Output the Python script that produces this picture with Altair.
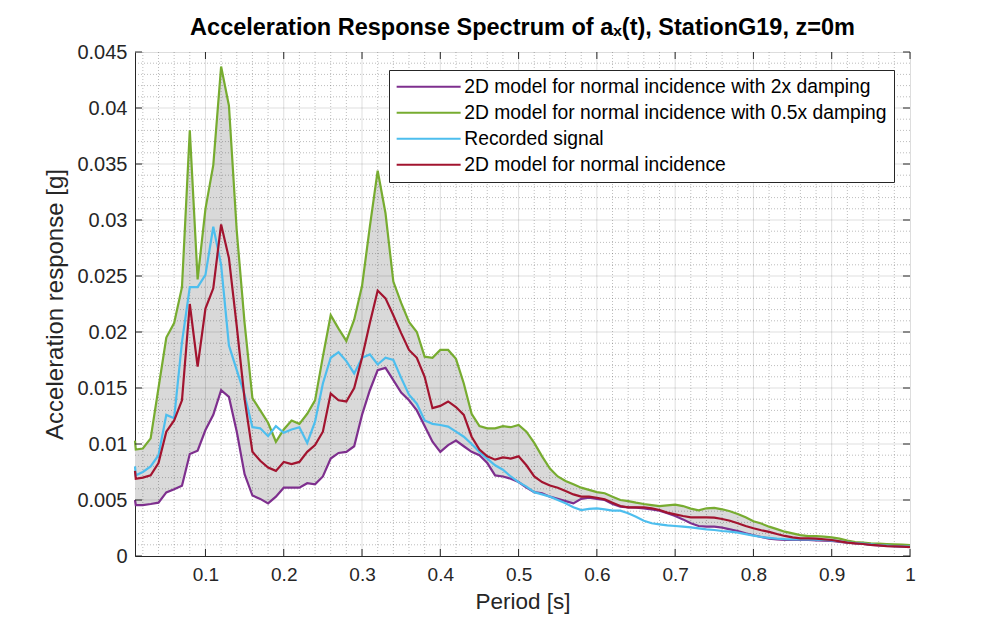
import altair as alt
import pandas as pd

# ---------------- data ----------------
periods = [0.01, 0.011, 0.02, 0.03, 0.04, 0.05, 0.06, 0.07, 0.08, 0.09, 0.10,
           0.11, 0.12, 0.13, 0.14, 0.15, 0.16, 0.17, 0.18, 0.19, 0.20,
           0.21, 0.22, 0.23, 0.24, 0.25, 0.26, 0.27, 0.28, 0.29, 0.30,
           0.31, 0.32, 0.33, 0.34, 0.35, 0.36, 0.37, 0.38, 0.39, 0.40,
           0.41, 0.42, 0.43, 0.44, 0.45, 0.46, 0.47, 0.48, 0.49, 0.50,
           0.51, 0.52, 0.53, 0.54, 0.55, 0.56, 0.57, 0.58, 0.59, 0.60,
           0.61, 0.62, 0.63, 0.64, 0.65, 0.66, 0.67, 0.68, 0.69, 0.70,
           0.71, 0.72, 0.73, 0.74, 0.75, 0.76, 0.77, 0.78, 0.79, 0.80,
           0.81, 0.82, 0.83, 0.84, 0.85, 0.86, 0.87, 0.88, 0.89, 0.90,
           0.91, 0.92, 0.93, 0.94, 0.95, 0.96, 0.97, 0.98, 0.99, 1.00]

damp_half = [0.0103, 0.0095, 0.0096, 0.0105, 0.0150, 0.0195, 0.0208, 0.0240, 0.0380, 0.0247, 0.0310,
             0.0349, 0.0437, 0.0402, 0.0290, 0.0208, 0.0141, 0.0130, 0.0119, 0.0102, 0.0113,
             0.0121, 0.0118, 0.0127, 0.0139, 0.0178, 0.0215, 0.0203, 0.0192, 0.0211, 0.0241,
             0.0294, 0.0344, 0.0306, 0.0245, 0.0226, 0.0209, 0.0200, 0.0178, 0.0177, 0.0184,
             0.0184, 0.0176, 0.0154, 0.0127, 0.0116, 0.0114, 0.0114, 0.0116, 0.0115, 0.0117,
             0.0111, 0.0101, 0.0089, 0.0078, 0.0071, 0.0067, 0.0064, 0.0061, 0.0059, 0.0057,
             0.0056, 0.0053, 0.0050, 0.0049, 0.00476, 0.00464, 0.00455, 0.00446, 0.00452, 0.00458,
             0.00446, 0.00423, 0.00408, 0.00426, 0.00429, 0.00417, 0.0040, 0.00375, 0.00345, 0.0031,
             0.0029, 0.00262, 0.0024, 0.00217, 0.00202, 0.00187, 0.00178, 0.00178, 0.00173, 0.00167,
             0.00155, 0.00137, 0.00125, 0.00119, 0.00113, 0.0011, 0.00107, 0.00104, 0.00101, 0.00098]

recorded = [0.0080, 0.0072, 0.0075, 0.0080, 0.0090, 0.0126, 0.0123, 0.0191, 0.0240, 0.0240, 0.0251,
            0.0294, 0.0260, 0.0188, 0.0166, 0.0144, 0.0115, 0.0114, 0.0107, 0.0116, 0.0110,
            0.0113, 0.0115, 0.0101, 0.0120, 0.0154, 0.0177, 0.0182, 0.0174, 0.0163, 0.0177,
            0.0180, 0.0171, 0.0177, 0.0175, 0.0159, 0.0144, 0.0136, 0.0121, 0.0118, 0.0117,
            0.01155, 0.0111, 0.01065, 0.0100, 0.0093, 0.0087, 0.0081, 0.0077, 0.0071, 0.0066,
            0.0062, 0.0057, 0.0055, 0.0053, 0.0050, 0.0047, 0.00435, 0.0041, 0.0042, 0.00425,
            0.00417, 0.00405, 0.00405, 0.00381, 0.00351, 0.00315, 0.00292, 0.00283, 0.00274, 0.00268,
            0.00262, 0.00256, 0.00247, 0.00238, 0.00232, 0.00223, 0.00217, 0.00208, 0.00196, 0.00182,
            0.0017, 0.00162, 0.00155, 0.0015, 0.00148, 0.00148, 0.00148, 0.00146, 0.00143, 0.0014,
            0.00131, 0.00122, 0.00116, 0.0011, 0.00104, 0.00098, 0.00093, 0.00089, 0.00086, 0.00083]

normal = [0.0076, 0.0069, 0.0070, 0.0072, 0.0083, 0.0111, 0.0121, 0.0139, 0.0225, 0.0169, 0.0221,
          0.0239, 0.0296, 0.0266, 0.0205, 0.0140, 0.0093, 0.0085, 0.0079, 0.0076, 0.0084,
          0.0082, 0.0084, 0.0093, 0.0099, 0.0111, 0.0145, 0.0139, 0.0138, 0.0150, 0.0177,
          0.0208, 0.0237, 0.0230, 0.0215, 0.0199, 0.0184, 0.0177, 0.0160, 0.0132, 0.0134,
          0.0138, 0.0133, 0.0126, 0.01065, 0.0095, 0.0089, 0.0086, 0.0088, 0.0087, 0.0089,
          0.0081, 0.0071, 0.0066, 0.0063, 0.0061, 0.0058, 0.0055, 0.0053, 0.0053, 0.0052,
          0.00506, 0.00476, 0.00446, 0.00435, 0.00435, 0.00435, 0.00426, 0.00411, 0.00387, 0.00372,
          0.00357, 0.00345, 0.00345, 0.00345, 0.00342, 0.0033, 0.00315, 0.00292, 0.00268, 0.00248,
          0.0023, 0.00215, 0.00196, 0.00179, 0.00167, 0.00158, 0.00158, 0.00155, 0.00149, 0.00143,
          0.00131, 0.00119, 0.00113, 0.00107, 0.0010, 0.00095, 0.00089, 0.00086, 0.00083, 0.0008]

damp_double = [0.0050, 0.00455, 0.00455, 0.00464, 0.00476, 0.00568, 0.00595, 0.00628, 0.0091, 0.0094, 0.01125,
               0.0126, 0.0148, 0.0142, 0.0111, 0.0073, 0.0054, 0.0051, 0.0047, 0.0053, 0.0061,
               0.0061, 0.0061, 0.0065, 0.0064, 0.0071, 0.0087, 0.0092, 0.0093, 0.0098, 0.0126,
               0.0148, 0.0166, 0.0168, 0.0157, 0.0146, 0.0139, 0.0130, 0.0116, 0.0102, 0.0093,
               0.0099, 0.0103, 0.0098, 0.0093, 0.0090, 0.0083, 0.0072, 0.0071, 0.0069, 0.0066,
               0.0061, 0.0057, 0.0056, 0.0053, 0.0051, 0.0049, 0.0047, 0.0051, 0.0052, 0.0051,
               0.0050, 0.00464, 0.0044, 0.00435, 0.00432, 0.00426, 0.00417, 0.00405, 0.00381, 0.00357,
               0.00327, 0.00292, 0.00268, 0.00262, 0.00262, 0.00253, 0.00238, 0.00223, 0.00202, 0.00185,
               0.0017, 0.00155, 0.00148, 0.00143, 0.00143, 0.00143, 0.00143, 0.0014, 0.00137, 0.00134,
               0.00125, 0.00119, 0.00113, 0.00107, 0.0010, 0.00095, 0.0009, 0.00087, 0.00084, 0.00081]

series_names = ["2D model for normal incidence with 2x damping",
                "2D model for normal incidence with 0.5x damping",
                "Recorded signal",
                "2D model for normal incidence"]
series_colors = ["#7E2F8E", "#77AC30", "#4DBEEE", "#A2142F"]
series_values = [damp_double, damp_half, recorded, normal]

x_ticks = [0.1, 0.2, 0.3, 0.4, 0.5, 0.6, 0.7, 0.8, 0.9, 1.0]
y_ticks = [0, 0.005, 0.01, 0.015, 0.02, 0.025, 0.03, 0.035, 0.04, 0.045]
x_minor = [round(0.02 * k, 2) for k in range(1, 50) if k % 5 != 0]
y_minor = [round(0.001 * k, 3) for k in range(1, 45) if k % 5 != 0]

# ---------------- tables ----------------
rows = []
for name, vals in zip(series_names, series_values):
    for p, v in zip(periods, vals):
        rows.append({"period": p, "value": v, "series": name})
long_df = pd.DataFrame(rows)
band_df = pd.DataFrame({"period": periods, "upper": damp_half, "lower": damp_double})

W, H = 775, 504
FONT = "Liberation Sans"
INK = "#262626"

xs = alt.Scale(domain=[0.01, 1.0], nice=False, zero=False)
ys = alt.Scale(domain=[0, 0.045], nice=False, zero=True)

x_axis = alt.Axis(values=x_ticks, format="~g", title="Period [s]", grid=False,
                  ticks=False, tickSize=0, labelPadding=9, titlePadding=6,
                  labelFontSize=19, titleFontSize=22.5, titleFontWeight="normal",
                  labelColor=INK, titleColor=INK, domainColor=INK, labelFont=FONT,
                  titleFont=FONT, labelFlush=False)
y_axis = alt.Axis(values=y_ticks, format="~g", title="Acceleration response [g]", grid=False,
                  ticks=False, tickSize=0, labelPadding=8, titlePadding=9,
                  labelFontSize=20, titleFontSize=24, titleFontWeight="normal",
                  labelColor=INK, titleColor=INK, domainColor=INK, labelFont=FONT,
                  titleFont=FONT, labelFlush=False)

base_x = alt.X("period:Q", scale=xs, axis=x_axis)
base_y = alt.Y("value:Q", scale=ys, axis=y_axis)

band = alt.Chart(band_df).mark_area(color="#d9d9d9", opacity=1).encode(
    x=alt.X("period:Q", scale=xs, axis=x_axis),
    y=alt.Y("upper:Q", scale=ys, axis=y_axis),
    y2="lower:Q",
)

def vrules(vals, dash, opacity):
    df = pd.DataFrame({"v": vals})
    m = alt.Chart(df).mark_rule(stroke=INK, strokeOpacity=opacity, strokeWidth=1,
                                **({"strokeDash": dash} if dash else {}))
    return m.encode(x=alt.X("v:Q", scale=xs, axis=x_axis))

def hrules(vals, dash, opacity):
    df = pd.DataFrame({"v": vals})
    m = alt.Chart(df).mark_rule(stroke=INK, strokeOpacity=opacity, strokeWidth=1,
                                **({"strokeDash": dash} if dash else {}))
    return m.encode(y=alt.Y("v:Q", scale=ys, axis=y_axis))

minor_x = vrules(x_minor, [1, 2], 0.3)
minor_y = hrules(y_minor, [1, 2], 0.3)
major_x = vrules(x_ticks[:-1], None, 0.15)
major_y = hrules(y_ticks[1:-1], None, 0.15)

color_scale = alt.Scale(domain=series_names, range=series_colors)
legend = alt.Legend(title=None, orient="none", legendX=254, legendY=18,
                    symbolType="M-4,0H4", symbolSize=256, symbolStrokeWidth=2,
                    symbolOffset=23, labelOffset=26,
                    labelFontSize=19.3, labelFont=FONT, labelColor="black",
                    labelLimit=600, rowPadding=6, padding=7,
                    strokeColor=INK, fillColor="white", cornerRadius=0)

lines = []
for name in series_names:
    lines.append(
        alt.Chart(long_df).transform_filter(alt.datum.series == name)
        .mark_line(strokeWidth=2.2)
        .encode(x=base_x, y=base_y,
                color=alt.Color("series:N", scale=color_scale, legend=legend))
    )

# inward tick marks on all four sides
tx = pd.DataFrame({"v": x_ticks})
ty = pd.DataFrame({"v": y_ticks})
tick_style = dict(stroke=INK, strokeWidth=1)
ticks_bottom = alt.Chart(tx).mark_rule(**tick_style).encode(
    x=alt.X("v:Q", scale=xs, axis=x_axis), y=alt.value(H), y2=alt.value(H - 7))
ticks_top = alt.Chart(tx).mark_rule(**tick_style).encode(
    x=alt.X("v:Q", scale=xs, axis=x_axis), y=alt.value(0), y2=alt.value(7))
ticks_left = alt.Chart(ty).mark_rule(**tick_style).encode(
    y=alt.Y("v:Q", scale=ys, axis=y_axis), x=alt.value(0), x2=alt.value(7))
ticks_right = alt.Chart(ty).mark_rule(**tick_style).encode(
    y=alt.Y("v:Q", scale=ys, axis=y_axis), x=alt.value(W), x2=alt.value(W - 7))

chart = alt.layer(
    band, minor_x, minor_y, major_x, major_y, *lines,
    ticks_bottom, ticks_top, ticks_left, ticks_right,
).properties(
    width=W, height=H,
    title=alt.TitleParams(
        "Acceleration Response Spectrum of aₓ(t), StationG19, z=0m",
        font=FONT, fontSize=23.5, fontWeight="bold", color="black",
        anchor="middle", offset=3),
    padding={"left": 127, "top": 44, "right": 80, "bottom": 59},
    autosize=alt.AutoSizeParams(type="none"),
).configure_view(stroke=INK, strokeWidth=1).configure(background="white")

chart.save("out.html", embed_options={"renderer": "svg", "actions": False})
